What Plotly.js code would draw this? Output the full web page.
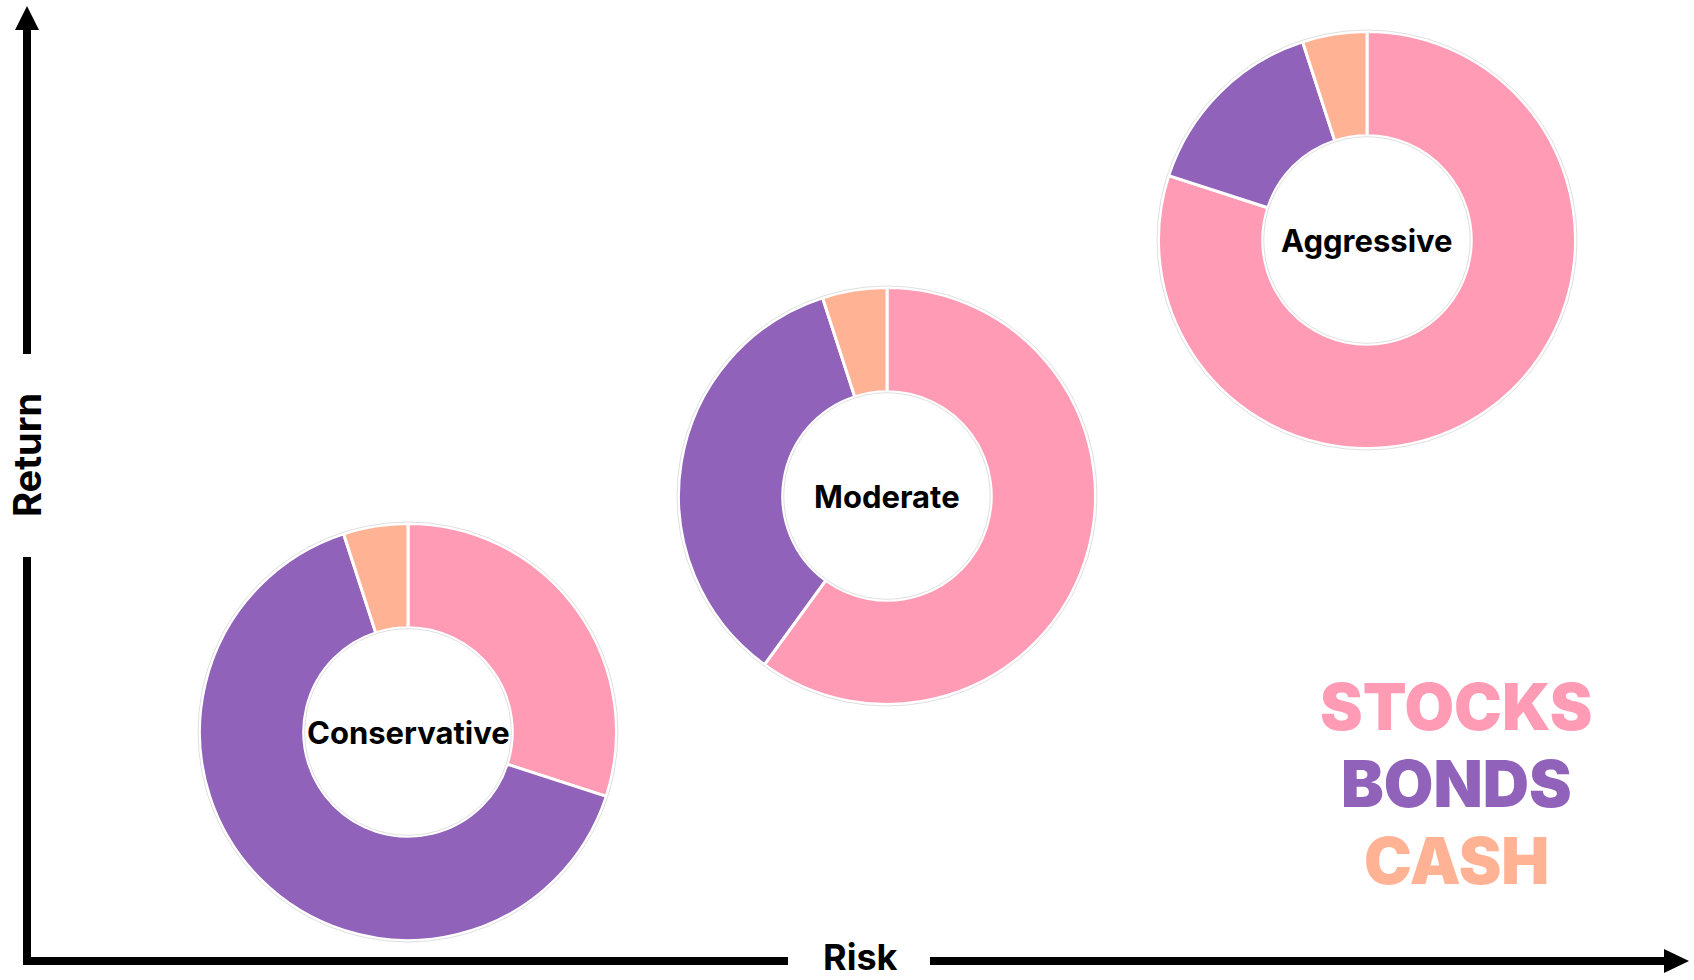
<!DOCTYPE html>
<html>
<head>
<meta charset="utf-8">
<script src="https://cdn.plot.ly/plotly-3.0.1.min.js"></script>
<style>html,body{margin:0;padding:0;background:#fff;}#chart{width:1694px;height:980px;}</style>
</head>
<body>
<div id="chart"></div>
<script>
// ---- data ----
const assetClasses = ["Stocks", "Bonds", "Cash"];
const legendLabels = ["STOCKS", "BONDS", "CASH"];
const portfolios = ["Conservative", "Moderate", "Aggressive"];
const conservativeValues = [30, 65, 5];
const moderateValues = [60, 35, 5];
const aggressiveValues = [80, 15, 5];
const colors = ["#FF9BB5", "#9062BA", "#FFB294"];
const xAxisLabel = "Risk";
const yAxisLabel = "Return";

// ---- layout helpers (pixel space) ----
const W = 1694, H = 980;
const centers = [[408, 732], [887, 496], [1367, 240]];
const R = 208.5;
const valuesList = [conservativeValues, moderateValues, aggressiveValues];

const traces = portfolios.map((name, i) => {
  const [cx, cy] = centers[i];
  return {
    type: "pie",
    labels: assetClasses,
    values: valuesList[i],
    name: name,
    hole: 0.5,
    sort: false,
    direction: "clockwise",
    rotation: 0,
    textinfo: "none",
    hoverinfo: "label+percent",
    marker: { colors: colors, line: { color: "#ffffff", width: 3 } },
    domain: {
      x: [(cx - R) / W, (cx + R) / W],
      y: [(H - cy - R) / H, (H - cy + R) / H]
    },
    showlegend: false
  };
});

const shapes = [];
const axisColor = "#000";
// y axis line (broken around the label)
shapes.push({ type: "line", xref: "x", yref: "y", x0: 27, x1: 27, y0: 26, y1: 354, line: { color: axisColor, width: 8 } });
shapes.push({ type: "line", xref: "x", yref: "y", x0: 27, x1: 27, y0: 557, y1: 965, line: { color: axisColor, width: 8 } });
// y arrow head
shapes.push({ type: "path", xref: "x", yref: "y", path: "M 15 30 L 27 6 L 39 30 Z", fillcolor: axisColor, line: { color: axisColor, width: 0 } });
// x axis line (broken around the label)
shapes.push({ type: "line", xref: "x", yref: "y", x0: 23, x1: 788, y0: 961, y1: 961, line: { color: axisColor, width: 8 } });
shapes.push({ type: "line", xref: "x", yref: "y", x0: 930, x1: 1668, y0: 961, y1: 961, line: { color: axisColor, width: 8 } });
// x arrow head
shapes.push({ type: "path", xref: "x", yref: "y", path: "M 1664 949 L 1689 961 L 1664 973 Z", fillcolor: axisColor, line: { color: axisColor, width: 0 } });
// faint outline circles around the donuts
centers.forEach(([cx, cy]) => {
  [R + 1.5, R * 0.5 - 1].forEach(r => {
    shapes.push({ type: "circle", xref: "x", yref: "y", x0: cx - r, x1: cx + r, y0: cy - r, y1: cy + r,
      line: { color: "rgba(0,0,0,0.13)", width: 1 }, layer: "above" });
  });
});

const annotations = [];
portfolios.forEach((name, i) => {
  annotations.push({ xref: "x", yref: "y", x: centers[i][0], y: centers[i][1], text: name, showarrow: false,
    font: { family: "Inter, Roboto, sans-serif", size: 31, color: "#000", weight: 700 } });
});
annotations.push({ xref: "x", yref: "y", x: 860, y: 980, yanchor: "bottom", borderpad: 0, text: xAxisLabel, showarrow: false,
  font: { family: "Inter, Roboto, sans-serif", size: 36, color: "#000", weight: 700 } });
annotations.push({ xref: "x", yref: "y", x: 27, y: 455, text: yAxisLabel, showarrow: false, textangle: -90,
  font: { family: "Inter, Roboto, sans-serif", size: 38, color: "#000", weight: 700 } });
const legendY = [706, 783, 860];
legendLabels.forEach((t, i) => {
  annotations.push({ xref: "x", yref: "y", x: 1456, y: legendY[i], text: t, showarrow: false,
    font: { family: "Inter, Roboto, sans-serif", size: 64, color: colors[i], weight: 900 } });
});

const layout = {
  width: W, height: H,
  margin: { l: 0, r: 0, t: 0, b: 0 },
  paper_bgcolor: "#fff", plot_bgcolor: "#fff",
  xaxis: { range: [0, W], visible: false, fixedrange: true },
  yaxis: { range: [H, 0], visible: false, fixedrange: true },
  shapes: shapes,
  annotations: annotations,
  showlegend: false
};

Plotly.newPlot("chart", traces, layout, { displayModeBar: false, staticPlot: true });
</script>
</body>
</html>
